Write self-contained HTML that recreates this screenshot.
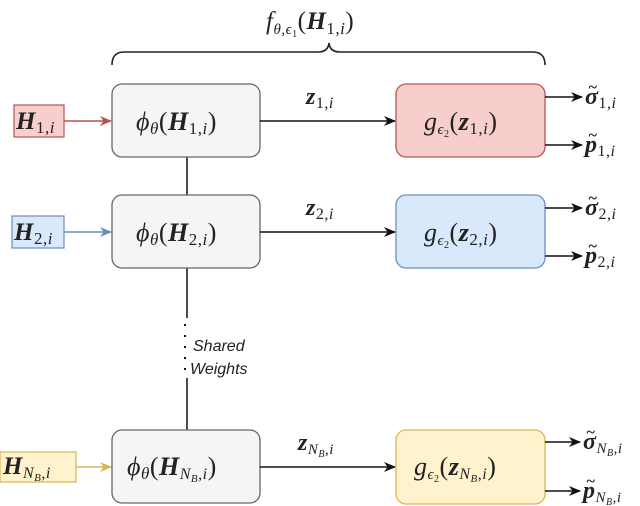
<!DOCTYPE html>
<html><head><meta charset="utf-8"><style>
html,body{margin:0;padding:0;background:#fff;}
svg{display:block;}
.m{font-family:"Liberation Serif",serif;font-style:italic;fill:#222;letter-spacing:0.5px;}
.b{font-weight:bold;}
.s{font-style:normal;}
.n{font-weight:normal;}
</style></head><body>
<svg width="640" height="506" viewBox="0 0 640 506" xmlns="http://www.w3.org/2000/svg">
<defs>
<marker id="ak" markerWidth="12" markerHeight="12" refX="11" refY="6" orient="auto" markerUnits="userSpaceOnUse"><path d="M0,1 L12,6 L0,11 L3.5,6z" fill="#111"/></marker>
<marker id="ar" markerWidth="12" markerHeight="12" refX="11" refY="6" orient="auto" markerUnits="userSpaceOnUse"><path d="M0,1 L12,6 L0,11 L3.5,6z" fill="#b85450"/></marker>
<marker id="ab" markerWidth="12" markerHeight="12" refX="11" refY="6" orient="auto" markerUnits="userSpaceOnUse"><path d="M0,1 L12,6 L0,11 L3.5,6z" fill="#6c8ebf"/></marker>
<marker id="ay" markerWidth="12" markerHeight="12" refX="11" refY="6" orient="auto" markerUnits="userSpaceOnUse"><path d="M0,1 L12,6 L0,11 L3.5,6z" fill="#d6b656"/></marker>
</defs>
<text class="m" x="266" y="29" font-size="25">f<tspan font-size="15" dy="5">θ,ϵ</tspan><tspan font-size="10" dy="3" class="s">1</tspan><tspan dy="-8" class="s">(</tspan><tspan class="b">H</tspan><tspan font-size="17" dy="5" class="s">1,</tspan><tspan font-size="17">i</tspan><tspan dy="-5" class="s">)</tspan></text>
<path d="M112,65 Q112,52 124,52 L318,52 Q328,52 329,43 Q330,52 340,52 L533,52 Q545,52 545,65" fill="none" stroke="#222" stroke-width="1.6"/>
<line x1="187" y1="157" x2="187" y2="195" stroke="#111" stroke-width="1.5"/>
<line x1="187" y1="268" x2="187" y2="318" stroke="#111" stroke-width="1.5"/>
<line x1="187" y1="378" x2="187" y2="430" stroke="#111" stroke-width="1.5"/>
<line x1="185" y1="324" x2="185" y2="376" stroke="#111" stroke-width="2" stroke-dasharray="2,9"/>
<text x="193" y="351" font-family="Liberation Sans,sans-serif" font-style="italic" font-size="16" fill="#222">Shared</text>
<text x="190" y="374" font-family="Liberation Sans,sans-serif" font-style="italic" font-size="16" fill="#222">Weights</text>
<rect x="14" y="105" width="50" height="32" fill="#f8cecc" stroke="#b85450" stroke-width="1.2"/>
<text class="m" x="16" y="129" font-size="25"><tspan class="b">H</tspan><tspan font-size="17" dy="4" class="s">1,</tspan><tspan font-size="17">i</tspan></text>
<line x1="64" y1="121" x2="111" y2="121" stroke="#b85450" stroke-width="1.5" marker-end="url(#ar)"/>
<rect x="12" y="216" width="52" height="32" fill="#dae8fc" stroke="#6c8ebf" stroke-width="1.2"/>
<text class="m" x="14" y="240" font-size="25"><tspan class="b">H</tspan><tspan font-size="17" dy="4" class="s">2,</tspan><tspan font-size="17">i</tspan></text>
<line x1="64" y1="232" x2="111" y2="232" stroke="#6c8ebf" stroke-width="1.5" marker-end="url(#ab)"/>
<rect x="0" y="452" width="76" height="30" fill="#fff2cc" stroke="#d6b656" stroke-width="1.2"/>
<text class="m" x="3" y="474" font-size="25"><tspan class="b">H</tspan><tspan font-size="16" dy="4">N</tspan><tspan font-size="11" dy="3">B</tspan><tspan font-size="16" dy="-3" class="s">,</tspan><tspan font-size="16">i</tspan></text>
<line x1="76" y1="467" x2="111" y2="467" stroke="#d6b656" stroke-width="1.5" marker-end="url(#ay)"/>
<rect x="112" y="84" width="148" height="73" rx="10" fill="#f5f5f5" stroke="#666" stroke-width="1.3"/>
<text class="m" x="136" y="130" font-size="26">ϕ<tspan font-size="17" dy="4">θ</tspan><tspan dy="-4" class="s">(</tspan><tspan class="b">H</tspan><tspan font-size="17" dy="4" class="s">1,</tspan><tspan font-size="17">i</tspan><tspan dy="-4" class="s">)</tspan></text>
<rect x="112" y="195" width="148" height="73" rx="10" fill="#f5f5f5" stroke="#666" stroke-width="1.3"/>
<text class="m" x="136" y="241" font-size="26">ϕ<tspan font-size="17" dy="4">θ</tspan><tspan dy="-4" class="s">(</tspan><tspan class="b">H</tspan><tspan font-size="17" dy="4" class="s">2,</tspan><tspan font-size="17">i</tspan><tspan dy="-4" class="s">)</tspan></text>
<rect x="112" y="430" width="148" height="73" rx="10" fill="#f5f5f5" stroke="#666" stroke-width="1.3"/>
<text class="m" x="127" y="475" font-size="26">ϕ<tspan font-size="17" dy="4">θ</tspan><tspan dy="-4" class="s">(</tspan><tspan class="b">H</tspan><tspan font-size="16" dy="4">N</tspan><tspan font-size="11" dy="3">B</tspan><tspan font-size="16" dy="-3" class="s">,</tspan><tspan font-size="16">i</tspan><tspan dy="-4" class="s">)</tspan></text>
<line x1="260" y1="121" x2="395" y2="121" stroke="#111" stroke-width="1.5" marker-end="url(#ak)"/>
<text class="m b" x="306" y="104" font-size="24">z<tspan font-size="16" dy="4" class="n s">1,</tspan><tspan font-size="16" class="n">i</tspan></text>
<line x1="260" y1="232" x2="395" y2="232" stroke="#111" stroke-width="1.5" marker-end="url(#ak)"/>
<text class="m b" x="306" y="215" font-size="24">z<tspan font-size="16" dy="4" class="n s">2,</tspan><tspan font-size="16" class="n">i</tspan></text>
<line x1="260" y1="467" x2="395" y2="467" stroke="#111" stroke-width="1.5" marker-end="url(#ak)"/>
<text class="m b" x="298" y="450" font-size="24">z<tspan font-size="15" dy="4" class="n">N</tspan><tspan font-size="10" dy="3" class="n">B</tspan><tspan font-size="15" dy="-3" class="n s">,</tspan><tspan font-size="15" class="n">i</tspan></text>
<rect x="396" y="84" width="149" height="73" rx="10" fill="#f8cecc" stroke="#b85450" stroke-width="1.3"/>
<text class="m" x="424" y="130" font-size="26">g<tspan font-size="15" dy="4">ϵ</tspan><tspan font-size="10" dy="3" class="s">2</tspan><tspan dy="-7" class="s">(</tspan><tspan class="b">z</tspan><tspan font-size="17" dy="4" class="s">1,</tspan><tspan font-size="17">i</tspan><tspan dy="-4" class="s">)</tspan></text>
<rect x="396" y="195" width="149" height="73" rx="10" fill="#dae8fc" stroke="#6c8ebf" stroke-width="1.3"/>
<text class="m" x="424" y="241" font-size="26">g<tspan font-size="15" dy="4">ϵ</tspan><tspan font-size="10" dy="3" class="s">2</tspan><tspan dy="-7" class="s">(</tspan><tspan class="b">z</tspan><tspan font-size="17" dy="4" class="s">2,</tspan><tspan font-size="17">i</tspan><tspan dy="-4" class="s">)</tspan></text>
<rect x="396" y="430" width="149" height="74" rx="10" fill="#fff2cc" stroke="#d6b656" stroke-width="1.3"/>
<text class="m" x="414" y="475" font-size="26">g<tspan font-size="15" dy="4">ϵ</tspan><tspan font-size="10" dy="3" class="s">2</tspan><tspan dy="-7" class="s">(</tspan><tspan class="b">z</tspan><tspan font-size="16" dy="4">N</tspan><tspan font-size="11" dy="3">B</tspan><tspan font-size="16" dy="-3" class="s">,</tspan><tspan font-size="16">i</tspan><tspan dy="-4" class="s">)</tspan></text>
<g stroke="#111" stroke-width="1.5">
<line x1="545" y1="97" x2="582" y2="97" marker-end="url(#ak)"/>
<line x1="545" y1="145" x2="582" y2="145" marker-end="url(#ak)"/>
<line x1="545" y1="208" x2="582" y2="208" marker-end="url(#ak)"/>
<line x1="545" y1="256" x2="582" y2="256" marker-end="url(#ak)"/>
<line x1="545" y1="442" x2="580" y2="442" marker-end="url(#ak)"/>
<line x1="545" y1="491" x2="580" y2="491" marker-end="url(#ak)"/>
</g>
<g class="m b" font-size="16">
<text class="m b" x="588" y="92">~</text>
<text class="m b" x="588" y="140">~</text>
<text class="m b" x="588" y="203">~</text>
<text class="m b" x="588" y="251">~</text>
<text class="m b" x="586" y="437">~</text>
<text class="m b" x="586" y="486">~</text>
</g>
<text class="m b" x="585" y="104" font-size="24">σ<tspan font-size="16" dy="4" class="n s">1,</tspan><tspan font-size="16" class="n">i</tspan></text>
<text class="m b" x="585" y="152" font-size="24">p<tspan font-size="16" dy="4" class="n s">1,</tspan><tspan font-size="16" class="n">i</tspan></text>
<text class="m b" x="585" y="215" font-size="24">σ<tspan font-size="16" dy="4" class="n s">2,</tspan><tspan font-size="16" class="n">i</tspan></text>
<text class="m b" x="585" y="263" font-size="24">p<tspan font-size="16" dy="4" class="n s">2,</tspan><tspan font-size="16" class="n">i</tspan></text>
<text class="m b" x="583" y="449" font-size="24">σ<tspan font-size="15" dy="4" class="n">N</tspan><tspan font-size="10" dy="3" class="n">B</tspan><tspan font-size="15" dy="-3" class="n s">,</tspan><tspan font-size="15" class="n">i</tspan></text>
<text class="m b" x="583" y="498" font-size="24">p<tspan font-size="15" dy="4" class="n">N</tspan><tspan font-size="10" dy="3" class="n">B</tspan><tspan font-size="15" dy="-3" class="n s">,</tspan><tspan font-size="15" class="n">i</tspan></text>
</svg>
</body></html>
